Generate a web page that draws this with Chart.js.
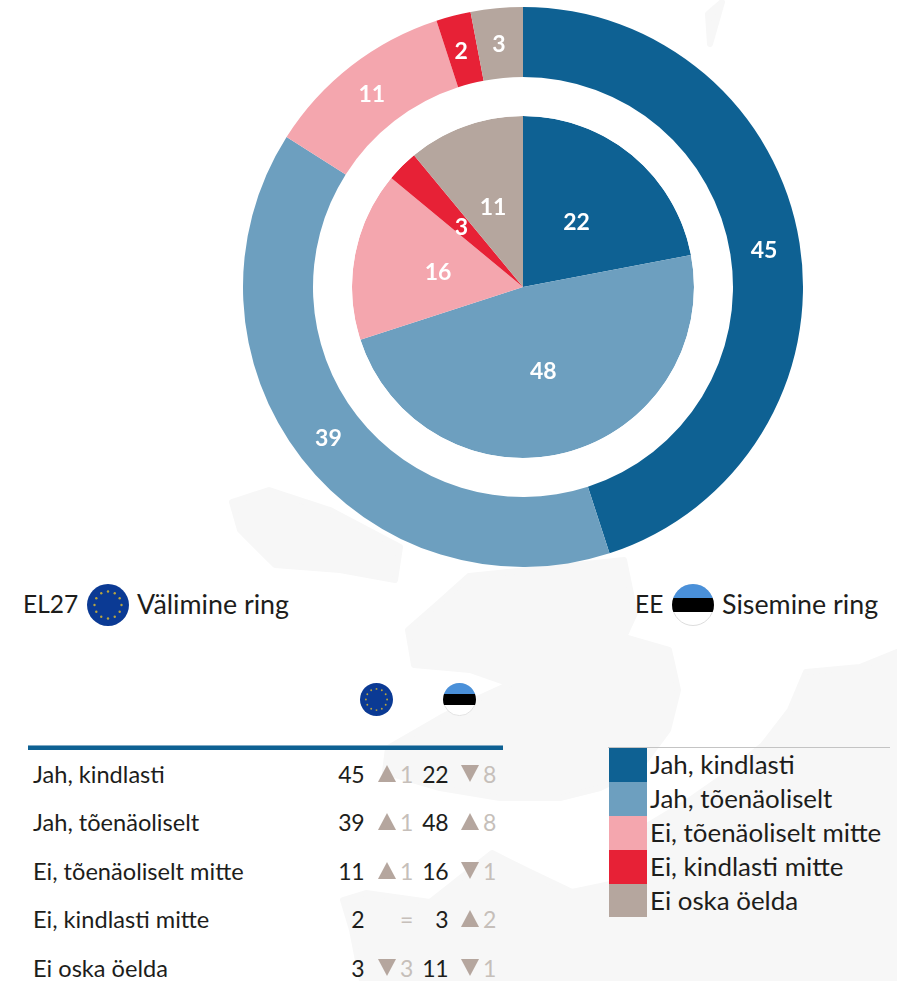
<!DOCTYPE html>
<html lang="et">
<head>
<meta charset="utf-8">
<title>EL27 / EE</title>
<script src="https://cdn.jsdelivr.net/npm/chart.js@4"></script>
<style>
  html, body { margin: 0; padding: 0; background: #fff; }
  body { position: relative; width: 897px; height: 981px; overflow: hidden; font-family: Lato, "Open Sans", sans-serif; color: #1d1d1b; }
  #map { position: absolute; left: 0; top: 0; }
  #chart-wrap { position: absolute; left: 242.5px; top: 7px; width: 560px; height: 560px; }
  .abs { position: absolute; white-space: nowrap; }
  .ring-label { font-size: 26.8px; line-height: 30px; top: 589px; }
  .ring-code { font-size: 24.5px; }
  .flag { position: absolute; }
  #rule { position: absolute; left: 28px; top: 746px; width: 475px; height: 4px; background: #0e6193; border-top: 1px solid #7fa9c4; box-sizing: content-box; margin-top: -1px; }
  #legend-rule { position: absolute; left: 608px; top: 747px; width: 282px; height: 1px; background: #c4c4c4; }
  .row-text { font-size: 23.6px; line-height: 26px; }
  .num { font-size: 23px; letter-spacing: -0.5px; text-align: right; width: 40px; }
  .delta { font-size: 23px; letter-spacing: -0.5px; color: #c6bfba; }
  .up, .down { position: absolute; width: 0; height: 0; border-left: 9px solid transparent; border-right: 9px solid transparent; }
  .up { border-bottom: 17px solid #b5a69e; }
  .down { border-top: 17px solid #b5a69e; }
  .swatch { position: absolute; left: 609px; width: 38px; }
  .leg-text { left: 650px; font-size: 25.9px; line-height: 28px; }
</style>
</head>
<body>
<svg id="map" width="897" height="981" viewBox="0 0 897 981">
  <g fill="#f7f7f7" stroke="#f7f7f7" stroke-width="6" stroke-linejoin="round">
    <path d="M232 502 L269 490 L330 510 L400 547 L395 580 L340 570 L275 565 L240 530 Z"/>
    <path d="M469 576 L624 560 L635 613 L624 637 L669 650 L678 690 L668 730 L640 768 L600 788 L560 798 L500 798 L440 788 L385 772 L388 748 L440 718 L475 700 L510 684 L470 670 L414 665 L408 630 L440 602 Z"/>
    <path d="M343 900 L366 893 L430 902 L492 853 L530 872 L572 892 L620 882 L620 981 L362 981 L352 930 Z"/>
    <path d="M897 652 L860 667 L806 672 L790 710 L763 745 L723 777 L690 800 L640 830 L620 870 L620 981 L897 981 Z"/>
    <path d="M492 92 L526 86 L524 112 L492 114 Z"/>
    <path d="M562 100 L575 108 L630 120 L625 134 L565 132 Z"/>
    <path d="M722 2 L714 30 L710 44 L708 14 Z"/>
  </g>
</svg>

<div id="chart-wrap"><canvas id="ringChart" width="560" height="560"></canvas></div>

<div class="abs ring-label ring-code" style="left:23px">EL27</div>
<svg class="flag" id="flag-eu-big" style="left:87px;top:584px" width="42" height="42" viewBox="0 0 42 42"></svg>
<div class="abs ring-label" style="left:137px">Välimine ring</div>
<div class="abs ring-label ring-code" style="left:635px">EE</div>
<svg class="flag" id="flag-ee-big" style="left:672px;top:584px" width="42" height="42" viewBox="0 0 42 42"></svg>
<div class="abs ring-label" style="left:722px">Sisemine ring</div>

<svg class="flag" id="flag-eu-small" style="left:360px;top:683px" width="33" height="33" viewBox="0 0 42 42"></svg>
<svg class="flag" id="flag-ee-small" style="left:443px;top:683px" width="33" height="33" viewBox="0 0 42 42"></svg>

<div id="rule"></div>
<div id="legend-rule"></div>
<div id="table"></div>
<div id="legend"></div>

<script>
const categories = ['Jah, kindlasti', 'Jah, tõenäoliselt', 'Ei, tõenäoliselt mitte', 'Ei, kindlasti mitte', 'Ei oska öelda'];
const outerValues = [45, 39, 11, 2, 3];   // EL27
const innerValues = [22, 48, 16, 3, 11];  // EE
const outerChange = [1, 1, 1, 0, -3];
const innerChange = [-8, 8, -1, 2, -1];
const colors = ['#0e6193', '#6d9fbf', '#f4a6ae', '#e72136', '#b5a69e'];

const rowTops = [761, 809, 858, 906, 955];
const legendTops = [748, 782, 816, 850, 884];

// value labels on the slices
const sliceLabels = {
  id: 'sliceLabels',
  afterDatasetsDraw(chart) {
    const ctx = chart.ctx;
    ctx.save();
    ctx.fillStyle = '#fff';
    ctx.font = 'bold 23px Lato, sans-serif';
    ctx.textAlign = 'center';
    ctx.textBaseline = 'middle';
    chart.data.datasets.forEach((ds, i) => {
      if (ds.spacer) return;
      chart.getDatasetMeta(i).data.forEach((arc, j) => {
        const p = arc.getCenterPoint();
        ctx.fillText(ds.data[j], p.x - 1, p.y + 1.5);
      });
    });
    ctx.restore();
  }
};

new Chart(document.getElementById('ringChart'), {
  type: 'doughnut',
  data: {
    labels: categories,
    datasets: [
      { data: outerValues, backgroundColor: colors, borderWidth: 0, weight: 70 },
      { data: [1], backgroundColor: 'rgba(255,255,255,1)', borderWidth: 0, weight: 39, spacer: true },
      { data: innerValues, backgroundColor: colors, borderWidth: 0, weight: 171 }
    ]
  },
  options: {
    responsive: false,
    animation: false,
    cutout: 0,
    layout: { padding: 0 },
    plugins: { legend: { display: false }, tooltip: { enabled: false } }
  },
  plugins: [sliceLabels]
});

function drawEu(id) {
  let s = '<circle cx="21" cy="21" r="21" fill="#0b3a94"/>';
  for (let i = 0; i < 12; i++) {
    const a = i * Math.PI / 6;
    s += `<circle cx="${21 + 13.5 * Math.sin(a)}" cy="${21 - 13.5 * Math.cos(a)}" r="1.2" fill="#b9a53f"/>`;
  }
  document.getElementById(id).innerHTML = s;
}

function drawEe(id) {
  document.getElementById(id).innerHTML =
    '<defs><clipPath id="c' + id + '"><circle cx="21" cy="21" r="21"/></clipPath></defs>' +
    '<circle cx="21" cy="21" r="20.5" fill="#fff" stroke="#ddd"/>' +
    '<g clip-path="url(#c' + id + ')"><rect width="42" height="14" fill="#4a90d9"/><rect y="14" width="42" height="14" fill="#000"/></g>';
}

drawEu('flag-eu-big');
drawEu('flag-eu-small');
drawEe('flag-ee-big');
drawEe('flag-ee-small');

function changeCell(v, left, top) {
  if (v === 0) return `<div class="abs row-text delta" style="left:${left + 22}px;top:${top}px">=</div>`;
  const cls = v > 0 ? 'up' : 'down';
  return `<div class="${cls}" style="left:${left}px;top:${top + 4}px"></div>` +
         `<div class="abs row-text delta" style="left:${left + 22}px;top:${top}px">${Math.abs(v)}</div>`;
}

document.getElementById('table').innerHTML = categories.map((c, i) => {
  const top = rowTops[i];
  return `<div class="abs row-text" style="left:33px;top:${top}px">${c}</div>` +
    `<div class="abs row-text num" style="left:324px;top:${top}px">${outerValues[i]}</div>` +
    changeCell(outerChange[i], 378, top) +
    `<div class="abs row-text num" style="left:408px;top:${top}px">${innerValues[i]}</div>` +
    changeCell(innerChange[i], 461, top);
}).join('');

document.getElementById('legend').innerHTML = categories.map((c, i) =>
  `<div class="swatch" style="top:${legendTops[i]}px;height:${(legendTops[i + 1] || 917) - legendTops[i]}px;background:${colors[i]}"></div>` +
  `<div class="abs leg-text" style="top:${legendTops[i] + 2}px">${c}</div>`
).join('');
</script>
</body>
</html>
